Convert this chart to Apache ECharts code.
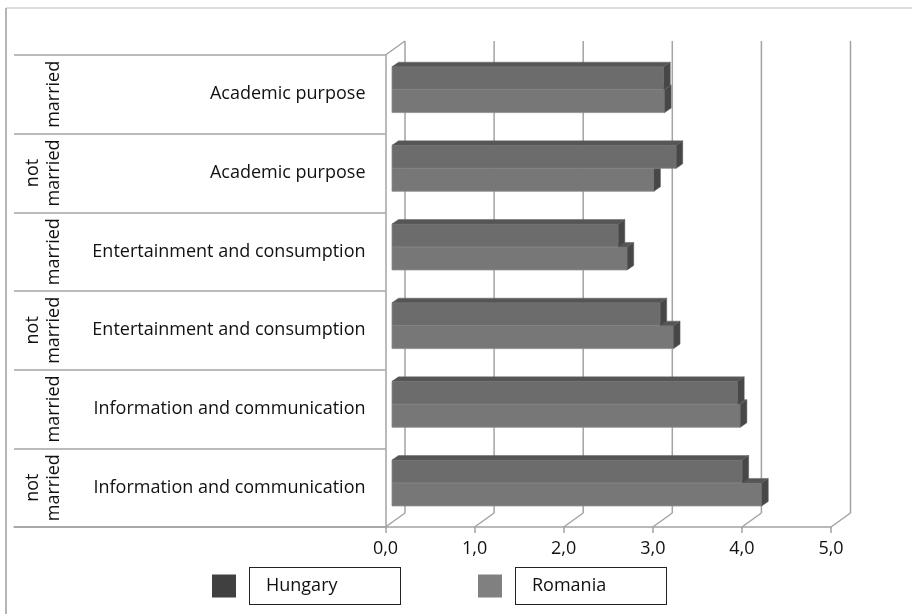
<!DOCTYPE html>
<html>
<head>
<meta charset="utf-8">
<script src="https://cdn.jsdelivr.net/npm/echarts@6/dist/echarts.min.js"></script>
<style>
  html, body { margin: 0; padding: 0; background: #fff; }
  #main { width: 912px; height: 614px; }
</style>
</head>
<body>
<div id="main"></div>
<script type="text/javascript">
	// data
	var purposes = ['Academic purpose', 'Academic purpose',
		'Entertainment and consumption', 'Entertainment and consumption',
		'Information and communication', 'Information and communication'];
	var maritalStatus = ['married', 'not\nmarried', 'married', 'not\nmarried', 'married', 'not\nmarried'];
	var hungary = [3.05, 3.19, 2.54, 3.01, 3.88, 3.93];
	var romania = [3.06, 2.94, 2.64, 3.16, 3.91, 4.15];
	var xTicks = [0, 1, 2, 3, 4, 5];

	var FONT = 'Open Sans';
	var GRID_LINE = '#a3a3a3';
	// depth of the back wall and of the bars (pseudo 3D)
	var DX = 19.5, DY = -14;
	var BX = 6.5, BY = -4.7, BDX = 6.5, BDY = -4.5;

	function wallItem(params, api) {
		var cs = params.coordSys;
		var x = api.coord([api.value(0), 0])[0];
		var yb = cs.y + cs.height;
		var st = { stroke: GRID_LINE, lineWidth: 1.5 };
		var kids = [
			{ type: 'line', shape: { x1: x + DX, y1: cs.y + DY, x2: x + DX, y2: yb + DY }, style: st },
			{ type: 'line', shape: { x1: x + DX, y1: yb + DY, x2: x, y2: yb }, style: st }
		];
		if (api.value(0) === 0) {
			kids.push({ type: 'line', shape: { x1: x, y1: cs.y, x2: x + DX, y2: cs.y + DY }, style: st });
		}
		return { type: 'group', children: kids };
	}

	function barItem(upper, frontColor) {
		return function (params, api) {
			var i = api.value(1);
			var end = api.coord([api.value(0), i]);
			var start = api.coord([0, i]);
			var bh = api.size([0, 1])[1] * 0.292;
			var x0 = start[0] + BX, x1 = end[0] + BX;
			var yt = (upper ? end[1] - bh : end[1]) + BY;
			var yb = yt + bh;
			return {
				type: 'group',
				children: [
					{ type: 'rect', shape: { x: x0, y: yt, width: x1 - x0, height: bh },
						style: { fill: frontColor, stroke: '#8c8c8c', lineWidth: 0.8 } },
					{ type: 'polygon', shape: { points: [[x0, yt], [x0 + BDX, yt + BDY], [x1 + BDX, yt + BDY], [x1, yt]] },
						style: { fill: '#555555', stroke: '#666', lineWidth: 0.5 } },
					{ type: 'polygon', shape: { points: [[x1, yt], [x1 + BDX, yt + BDY], [x1 + BDX, yb + BDY], [x1, yb]] },
						style: { fill: '#474747', stroke: '#5a5a5a', lineWidth: 0.5 } }
				]
			};
		};
	}

	var myChart = echarts.init(document.getElementById('main'));

	myChart.setOption({
		animation: false,
		backgroundColor: '#fff',
		textStyle: { fontFamily: FONT },
		graphic: [
			{ type: 'line', shape: { x1: 6, y1: 8, x2: 912, y2: 8 }, style: { stroke: '#dedede', lineWidth: 2 } },
			{ type: 'line', shape: { x1: 6, y1: 8, x2: 6, y2: 614 }, style: { stroke: '#b5b5b5', lineWidth: 2 } }
		],
		legend: {
			data: ['Hungary', 'Romania'],
			left: 212,
			top: 567,
			padding: 0,
			icon: 'rect',
			itemWidth: 24,
			itemHeight: 23,
			itemGap: 77,
			formatter: function (name) { return '{g|}{b|' + name + '}'; },
			textStyle: {
				fontFamily: FONT, fontSize: 18, color: '#111',
				rich: {
					g: { width: 9 },
					b: {
						fontFamily: FONT, fontSize: 18, color: '#111',
						width: 134, height: 26, padding: [5, 0, 5, 16],
						borderColor: '#222', borderWidth: 1, backgroundColor: '#fff'
					}
				}
			}
		},
		grid: [
			{ left: 14, right: 526.5, top: 55, bottom: 87 },
			{ left: 385.5, right: 81, top: 55, bottom: 87 }
		],
		xAxis: [
			{
				gridIndex: 0, type: 'value', min: 0, max: 1,
				axisLine: { show: true, lineStyle: { color: GRID_LINE, width: 1.5 } },
				axisTick: { show: false }, axisLabel: { show: false }, splitLine: { show: false }
			},
			{
				gridIndex: 1, type: 'value', min: 0, max: 5, interval: 1,
				axisLine: { show: true, lineStyle: { color: GRID_LINE, width: 1.5 } },
				axisTick: { show: true, length: 6, lineStyle: { color: GRID_LINE, width: 1.5 } },
				axisLabel: {
					fontFamily: FONT, fontSize: 18, color: '#111', margin: 13,
					formatter: function (v) { return v.toFixed(1).replace('.', ','); }
				},
				splitLine: { show: false }
			}
		],
		yAxis: [
			{
				gridIndex: 0, type: 'category', inverse: true, position: 'right',
				data: purposes,
				axisLine: { show: false }, axisTick: { show: false },
				axisLabel: { interval: 0, inside: true, margin: 20, fontFamily: FONT, fontSize: 18, color: '#111' },
				splitLine: { show: true, interval: 0, lineStyle: { color: GRID_LINE, width: 1.5 } }
			},
			{
				gridIndex: 0, type: 'category', inverse: true, position: 'left', offset: -50,
				data: maritalStatus,
				axisLine: { show: false }, axisTick: { show: false },
				axisLabel: { interval: 0, rotate: 90, margin: 0, fontFamily: FONT, fontSize: 18, color: '#111', lineHeight: 21 },
				splitLine: { show: false }
			},
			{
				gridIndex: 1, type: 'category', inverse: true,
				data: purposes,
				axisLine: { show: true, lineStyle: { color: GRID_LINE, width: 1.5 } },
				axisTick: { show: false }, axisLabel: { show: false }, splitLine: { show: false }
			}
		],
		series: [
			{
				type: 'custom', xAxisIndex: 1, yAxisIndex: 2, z: 1, silent: true,
				data: xTicks.map(function (v) { return [v, 0]; }),
				encode: { x: 0, y: 1 },
				renderItem: wallItem
			},
			{
				name: 'Romania', type: 'custom', xAxisIndex: 1, yAxisIndex: 2, z: 3,
				itemStyle: { color: '#808080', borderColor: '#555' },
				data: romania.map(function (v, i) { return [v, i]; }),
				encode: { x: 0, y: 1 },
				renderItem: barItem(false, '#777777')
			},
			{
				name: 'Hungary', type: 'custom', xAxisIndex: 1, yAxisIndex: 2, z: 4,
				itemStyle: { color: '#404040', borderColor: '#222' },
				data: hungary.map(function (v, i) { return [v, i]; }),
				encode: { x: 0, y: 1 },
				renderItem: barItem(true, '#6c6c6c')
			}
		]
	});
</script>
</body>
</html>
